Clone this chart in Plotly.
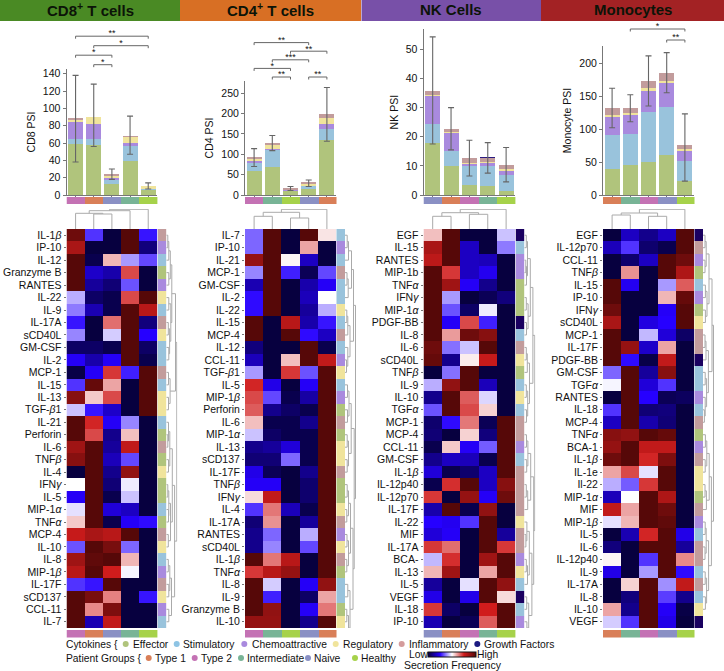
import plotly.graph_objects as go

W, H = 724, 671
FONT = "Liberation Sans"

# ---------------- data ----------------
STACKS = ["Effector", "Stimulatory", "Chemoattractive", "Regulatory", "Inflammatory", "Growth Factors"]
STACK_COLORS = ["#b0c47c", "#99c3dc", "#a98ade", "#f0e49c", "#c29c9c", "#2a1a80"]
CAT_INDEX = {"E": 0, "S": 1, "C": 2, "R": 3, "I": 4, "G": 5}
GROUP_COLORS = {"Type 1": "#d97f58", "Type 2": "#c472b4", "Intermediate": "#78b496", "Naive": "#8a90c4", "Healthy": "#a6d24a"}

cd8_groups = ["Type 2", "Type 1", "Naive", "Intermediate", "Healthy"]
cd4_groups = ["Type 2", "Intermediate", "Healthy", "Naive", "Type 1"]
nk_groups = ["Naive", "Type 1", "Type 2", "Intermediate", "Healthy"]
mono_groups = ["Type 1", "Intermediate", "Type 2", "Naive", "Healthy"]

cd8_stack = [[59, 58, 13, 39, 6], [5.5, 7, 4, 18, 1.5], [20, 17, 3, 3, 0], [2.5, 8, 3, 7, 3], [1, 0, 0.5, 1, 0], [0, 0, 0, 0, 0]]
cd4_stack = [[58, 70, 11, 14, 136], [20, 41, 1, 10, 25], [5, 2, 0.5, 0.5, 13], [6, 11, 2, 4, 16], [2, 3, 0.5, 1, 10], [0, 0, 0, 0, 0]]
nk_stack = [[18, 10, 3.3, 3, 1.3], [6.5, 5, 6.5, 7, 5.5], [9.5, 6.3, 1, 1.2, 1.5], [0.5, 0.5, 0.3, 0.3, 0.5], [1.3, 1, 1.6, 1.2, 1.5], [0, 0, 0, 0.2, 0]]
mono_stack = [[39, 45, 50, 61, 22], [52, 48, 76, 72, 29], [28, 29, 31, 38, 17], [3, 2, 5, 2, 2], [10, 8, 11, 12, 6], [0, 0, 0, 0, 0]]

cd8_err = [(38, 138), (56, 128), (18, 30), (47, 91), (7, 14)]
cd4_err = [(70, 114), (109, 146), (11, 21), (21, 37), (132, 264)]
nk_err = [(17.5, 54.3), (15.5, 30), (6.5, 18.8), (7.5, 18), (4.5, 16.3)]
mono_err = [(102, 162), (111, 152), (135, 211), (155, 216), (21, 123)]

# significance brackets: (from column, to column, level, stars)
cd8_sig = [(1, 2, 0, "*"), (0, 2, 1, "*"), (1, 4, 2, "*"), (0, 4, 3, "**")]
cd4_sig = [(1, 2, 0, "**"), (3, 4, 0, "**"), (0, 2, 1, "*"), (1, 3, 2, "***"), (2, 4, 3, "**"), (0, 3, 4, "**")]
nk_sig = []
mono_sig = [(3, 4, 0, "**"), (1, 4, 1, "*")]

b = "<i>β</i>"
a = "<i>α</i>"
g = "<i>γ</i>"

cd8_rows = [f"IL-1{b}", "IP-10", "IL-12", "Granzyme B", "RANTES", "IL-22", "IL-9", "IL-17A", "sCD40L", "GM-CSF", "IL-2", "MCP-1", "IL-15", "IL-13", f"TGF-{b}1", "IL-21", "Perforin", "IL-6", f"TNF{b}", "IL-4", f"IFN{g}", "IL-5", f"MIP-1{a}", f"TNF{a}", "MCP-4", "IL-10", "IL-8", f"MIP-1{b}", "IL-17F", "sCD137", "CCL-11", "IL-7"]
cd4_rows = ["IL-7", "IP-10", "IL-21", "MCP-1", "GM-CSF", "IL-2", "IL-22", "IL-15", "MCP-4", "IL-12", "CCL-11", f"TGF-{b}1", "IL-5", f"MIP-1{b}", "Perforin", "IL-6", f"MIP-1{a}", "IL-13", "sCD137", "IL-17F", f"TNF{b}", f"IFN{g}", "IL-4", "IL-17A", "RANTES", "sCD40L", f"IL-1{b}", f"TNF{a}", "IL-8", "IL-9", "Granzyme B", "IL-10"]
nk_rows = ["EGF", "IL-15", "RANTES", "MIP-1b", f"TNF{a}", f"IFN{g}", f"MIP-1{a}", "PDGF-BB", "IL-8", "IL-6", "sCD40L", f"TNF{b}", "IL-9", "IL-10", f"TGF{a}", "MCP-1", "MCP-4", "CCL-11", "GM-CSF", f"IL-1{b}", "IL-12p40", "IL-12p70", "IL-17F", "IL-22", "MIF", "IL-17A", "BCA-", "IL-13", "IL-5", "VEGF", "IL-18", "IP-10"]
mono_rows = ["EGF", "IL-12p70", "CCL-11", f"TNF{b}", "IL-15", "IP-10", f"IFN{g}", "sCD40L", "MCP-1", "IL-17F", "PDGF-BB", "GM-CSF", f"TGF{a}", "RANTES", "IL-18", "MCP-4", f"TNF{a}", "BCA-1", f"IL-1{b}", "IL-1e", "Il-22", f"MIP-1{a}", "MIF", f"MIP-1{b}", "IL-5", "IL-6", "IL-12p40", "IL-9", "IL-17A", "IL-8", "IL-10", "VEGF"]

cd8_cat = list("ICSECRSIRSSISRRSEIEREESEIRSCIRCS")
cd4_cat = list("SCSISSRSISCRSCEIERRIEERICRIESSER")
nk_cat = list("GSCCEEEGSIRESRSIICSIIIIRIICRSGSC")
mono_cat = list("GICESCERIIGSSCSIECIRREICSIISISRG")

cd8_z = [
 [.95,.30,0,1,.27],[.83,0,0,1,.08],[1,.02,.58,.40,.32],[1,.18,.14,.70,0],[1,.12,.07,.33,0],
 [.42,.05,.02,.70,1],[.37,.15,.02,1,.80],[.27,0,.66,1,.08],[.38,0,.45,1,.25],[.05,.05,.02,1,.05],
 [.24,.14,.24,1,.02],[.01,.24,.72,.28,1],[.30,.97,.60,0,1],[.90,.56,.70,0,1],[.44,.27,.18,0,1],
 [1,.74,.24,.38,0],[1,.70,.10,.57,0],[.85,1,.12,.78,0],[.90,1,.16,.32,0],[0,1,.10,.88,0],
 [.50,1,.07,.48,0],[.24,1,.02,.44,0],[.47,1,.20,.17,0],[.56,1,.02,.24,.26],[.77,.83,.80,1,0],
 [.33,1,.93,.35,0],[.85,.98,1,.58,0],[.80,1,.75,.49,0],[.30,.27,1,0,0],[1,.93,.64,0,.27],
 [1,.63,.92,0,0],[1,.15,.78,0,0]]
cd4_z = [
 [.35,1,0,1,.53],[.35,1,0,.60,0],[.87,1,.51,.17,0],[.38,1,.28,.03,.32],[.15,1,0,.14,.24],
 [.26,1,0,.16,.50],[.26,1,0,.12,.42],[1,0,.80,.14,.27],[1,0,1,.26,.17],[.08,0,0,1,.02],
 [.16,0,.57,1,.78],[.40,0,.72,.33,1],[.74,.22,0,.24,1],[.70,.32,.02,.13,1],[.68,.10,.05,.02,1],
 [.57,.02,.02,.10,1],[.44,.05,.02,.02,1],[.10,.12,.20,.02,1],[.07,.07,.35,.02,1],[.22,.03,0,.10,1],
 [.24,.24,0,.06,1],[.54,.78,0,.06,1],[.30,.65,.16,.02,1],[.07,.62,0,.12,1],[.10,.35,0,.42,1],
 [.10,.38,0,.32,1],[1,.65,.80,0,1],[.72,.80,.87,0,1],[1,.45,0,.24,.88],[1,.28,0,.05,.60],
 [1,.88,0,.24,.65],[.87,.87,0,.10,1]]
nk_z = [
 [.57,1,0,0,.44],[.83,1,.17,0,.37],[.79,1,.17,.16,0],[1,.72,.17,.23,0],[1,.85,.24,.10,0],
 [1,.40,0,.03,.08],[1,.33,.05,.48,0],[1,.24,.70,.28,0],[1,.61,.95,.90,0],[.95,.36,.44,1,0],
 [.97,.10,.52,.77,0],[0,.36,1,0,0],[.42,.88,1,.16,0],[.10,1,.68,.46,0],[.33,1,.70,.55,0],
 [.06,.26,.65,.03,1],[.07,0,.55,.08,1],[.02,.56,.24,.34,1],[.10,.17,.16,.02,1],[.20,.02,.06,.17,1],
 [.02,.73,1,.17,.90],[.72,0,.87,.24,.95],[.14,1,.02,.88,0],[.25,.23,.30,1,0],[.20,.24,0,1,.12],
 [.72,.66,0,1,.72],[.43,.73,0,.85,1],[.58,.85,0,.60,1],[.12,0,.47,1,.88],[.22,0,.22,1,.54],
 [.72,.05,0,.75,1],[.15,0,.03,.68,1]]
mono_z = [
 [0,.17,.10,.17,1],[.16,.30,.06,.02,1],[0,.06,.17,1,.95],[0,.62,0,1,.82],[1,.23,0,.40,.68],
 [1,0,0,.58,.97],[.95,0,0,.24,1],[.83,0,.21,.25,1],[1,0,.43,.20,.05],[1,.87,.18,.60,0],
 [1,.26,.01,.78,0],[.35,1,.12,.90,0],[.49,1,.20,.30,0],[0,1,.25,.03,.04],[.30,1,.07,.08,0],
 [.17,1,.14,.07,0],[.90,.88,1,.97,0],[.87,1,.78,.78,0],[.95,1,.74,.92,0],[.60,.70,.47,1,0],
 [.42,.34,.72,1,0],[.16,.50,1,.82,0],[.78,.60,1,.95,0],[.47,.58,1,.98,0],[0,.15,.74,1,.22],
 [.08,0,1,1,.12],[.51,0,.30,1,.63],[.22,0,.40,1,.26],[0,.55,1,.39,.78],[0,.08,1,.31,.10],
 [.60,.10,1,.24,.01],[.45,.30,1,.22,0]]

# dendrograms as (height, left, right); 0 is a leaf
cd8_coltree = (19.7, (18.3, (15.7, 0, (15, 0, 0)), 0), 0)
cd4_coltree = (19.7, (16.7, (12.7, 0, 0), (11, 0, 0)), 0)
nk_coltree = (19.7, (16.3, (12.7, 0, 0), (14.7, 0, 0)), 0)
mono_coltree = (19.7, (16, (14, 0, 0), (12.7, 0, 0)), 0)

cd8_rowtree = (10.5,
    (9.2, (5.5, (4, (2.5, (1.5, 0, 0), 0), (2.5, 0, 0)), (4.5, (2.5, 0, 0), (3.3, (2, 0, 0), (2.5, 0, 0)))), (3.8, (2.2, 0, 0), (2.2, 0, 0))),
    (8.3, (6, (3.5, (2.2, 0, (1.5, 0, 0)), (2.2, 0, 0)), (4.2, (2.5, (1.5, 0, 0), (2.2, 0, 0)), (2, 0, 0))),
          (5.2, (3.5, (2, 0, 0), (2.5, 0, 0)), (2.5, 0, 0))))
cd4_rowtree = (10.5,
    (8.5, (6.5, (3.5, (2.2, 0, 0), 0), (3.2, (2, 0, 0), 0)), 
          (5, (2.8, (1.8, 0, 0), 0), (2.8, 0, (1.5, 0, 0)))),
    (9.2, (6.2, (4, (2.5, 0, 0), (2.5, 0, 0)), (3.5, (2.2, 0, 0), (2.2, 0, 0))),
          (8, (5.5, (3.5, (2.2, 0, 0), (1.8, 0, 0)), (3.5, (2, 0, 0), (1.8, 0, 0))), (5, (2.8, 0, 0), (3.5, (1.8, 0, 0), (2, 0, 0))))))
nk_rowtree = (10.5,
    (8.6, (6, (3.2, (2, 0, 0), (2.2, (1.5, 0, 0), 0)), (3.8, (2, 0, 0), (2.2, 0, 0))),
          (5.2, (3, (2, 0, 0), 0), (3.4, (2, 0, 0), (2.2, 0, 0)))),
    (9.4, (6.4, (3.6, (2.2, 0, 0), (2.4, 0, 0)), (3.4, (2, 0, 0), 0)),
          (7.6, (5, (2.6, 0, (1.6, 0, 0)), (3.2, (2, 0, 0), 0)), (4.4, (2.4, 0, 0), (2.6, 0, 0)))))
mono_rowtree = (10.5,
    (9, (6, (3.2, (2, 0, 0), (2, 0, 0)), (4, (2.4, 0, 0), (2.4, 0, 0))),
        (5.4, (3, (2, 0, 0), 0), (3.6, (2.2, 0, 0), (2.2, 0, (1.4, 0, 0))))),
    (8.4, (6.2, (3.8, (2.4, 0, 0), (2.2, 0, 0)), (3.4, (2, 0, 0), 0)),
          (5.6, (3.2, (2.2, 0, 0), (2, 0, 0)), (3.6, (2.2, 0, 0), (2.4, 0, 0)))))

PANELS = [
    dict(title="CD8<sup>+</sup> T cells", ylabel="CD8 PSI", x0=66.5, x1=157.3, groups=cd8_groups, stack=cd8_stack, err=cd8_err,
         sig=cd8_sig, rows=cd8_rows, cat=cd8_cat, z=cd8_z, coltree=cd8_coltree, rowtree=cd8_rowtree,
         ytop=69, ymax=145.4, ticks=[0, 20, 40, 60, 80, 100, 120, 140], sig_base=64.7, sig_step=9.5),
    dict(title="CD4<sup>+</sup> T cells", ylabel="CD4 PSI", x0=245, x1=336, groups=cd4_groups, stack=cd4_stack, err=cd4_err,
         sig=cd4_sig, rows=cd4_rows, cat=cd4_cat, z=cd4_z, coltree=cd4_coltree, rowtree=cd4_rowtree,
         ytop=81, ymax=280, ticks=[0, 50, 100, 150, 200, 250], sig_base=77, sig_step=8.6),
    dict(title="NK Cells", ylabel="NK PSI", x0=423.5, x1=515.3, groups=nk_groups, stack=nk_stack, err=nk_err,
         sig=nk_sig, rows=nk_rows, cat=nk_cat, z=nk_z, coltree=nk_coltree, rowtree=nk_rowtree,
         ytop=29.3, ymax=56.9, ticks=[0, 10, 20, 30, 40, 50], sig_base=30, sig_step=9),
    dict(title="Monocytes", ylabel="Monocyte PSI", x0=603, x1=694, groups=mono_groups, stack=mono_stack, err=mono_err,
         sig=mono_sig, rows=mono_rows, cat=mono_cat, z=mono_z, coltree=mono_coltree, rowtree=mono_rowtree,
         ytop=46, ymax=226, ticks=[0, 50, 100, 150, 200], sig_base=40, sig_step=11),
]

HEADERS = [(0, 180, "#4a8a24"), (180, 361, "#d86f24"), (361.5, 541, "#7850a8"), (541, 724, "#a32224")]

COLORSCALE = [[0, "#07003f"], [0.25, "#2600ff"], [0.5, "#ffffff"], [0.75, "#d01c1c"], [1, "#560808"]]

LEGEND_ROW1 = [("Effector", 133, 125.7, "#b0c47c"), ("Stimulatory", 183.3, 176.7, "#8ec4e4"), ("Chemoattractive", 251.7, 244.3, "#a98ade"),
               ("Regulatory", 343.3, 335.7, "#f0e49c"), ("Inflammatory", 409.3, 401.7, "#d49c9c"), ("Growth Factors", 484.3, 477.3, "#1c1a80")]
LEGEND_ROW2 = [("Type 1", 155, 148.7, "#d97f58"), ("Type 2", 201, 194.7, "#c472b4"), ("Intermediate", 246.7, 241, "#78b496"),
               ("Naive", 314.3, 308, "#8a90c4"), ("Healthy", 360.7, 355, "#a6d24a")]

# ---------------- helpers ----------------
fig = go.Figure()
layout = {}
counter = [0]


def px_x(p):
    return p / W


def px_y(p):
    return 1 - p / H


def new_axes(x0, x1, y0, y1, xopts, yopts):
    """Create a pair of axes covering a pixel box (y0 top, y1 bottom)."""
    counter[0] += 1
    n = counter[0]
    sx = "" if n == 1 else str(n)
    base = dict(showgrid=False, zeroline=False, showline=False, showticklabels=False, ticks="")
    layout[f"xaxis{sx}"] = {**base, "domain": [px_x(x0), px_x(x1)], "anchor": f"y{sx}", **xopts}
    layout[f"yaxis{sx}"] = {**base, "domain": [px_y(y1), px_y(y0)], "anchor": f"x{sx}", **yopts}
    return f"x{sx}", f"y{sx}"


def tree_segments(node, start, vertical_leaves):
    """Return (position, height, segments, leaves) for a nested merge tree."""
    if node == 0:
        return float(start), 0.0, [], 1
    h, left, right = node
    lp, lh, ls, ln = tree_segments(left, start, vertical_leaves)
    rp, rh, rs, rn = tree_segments(right, start + ln, vertical_leaves)
    return (lp + rp) / 2, h, ls + rs + [((lp, lh), (lp, h), (rp, h), (rp, rh))], ln + rn


def add_tree(tree, xa, ya, horizontal):
    _, _, segs, _ = tree_segments(tree, 0, horizontal)
    xs, ys = [], []
    for seg in segs:
        for pos, h in seg:
            if horizontal:
                xs.append(h); ys.append(pos)
            else:
                xs.append(pos); ys.append(h)
        xs.append(None); ys.append(None)
    fig.add_trace(go.Scatter(x=xs, y=ys, xaxis=xa, yaxis=ya, mode="lines", hoverinfo="skip",
                             line=dict(color="#aaaaaa", width=1), showlegend=False))


def strip_scale(colors):
    n = len(colors)
    out = []
    for i, c in enumerate(colors):
        out += [[i / n, c], [(i + 1) / n, c]]
    return out


HEAT_TOP, HEAT_BOT = 229, 628
BAR_BOT = 195

for p in PANELS:
    x0, x1 = p["x0"], p["x1"]
    ncol = 5
    nrow = len(p["rows"])

    # bars
    xa, ya = new_axes(x0, x1, p["ytop"], BAR_BOT,
                      dict(range=[-0.5, 4.5], showline=True, linecolor="#777777", linewidth=1, ticks="outside",
                           ticklen=2, tickcolor="#777777", tickvals=list(range(ncol))),
                      dict(range=[0, p["ymax"]], showline=True, linecolor="#777777", linewidth=1, ticks="outside",
                           ticklen=3, tickcolor="#777777", tickvals=p["ticks"], showticklabels=True,
                           tickfont=dict(size=10.5, color="#111111", family=FONT),
                           title=dict(text=p["ylabel"], font=dict(size=10.5, color="#111111", family=FONT), standoff=5)))
    cols = list(range(ncol))
    for values, name, color in zip(p["stack"], STACKS, STACK_COLORS):
        fig.add_trace(go.Bar(x=cols, y=values, xaxis=xa, yaxis=ya, name=name, width=0.82, marker=dict(color=color, line=dict(width=0)),
                             showlegend=False))
    totals = [sum(v[i] for v in p["stack"]) for i in cols]
    fig.add_trace(go.Scatter(x=cols, y=totals, xaxis=xa, yaxis=ya, mode="markers", marker=dict(size=0.1, color="rgba(0,0,0,0)"),
                             error_y=dict(type="data", symmetric=False, array=[e[1] - t for e, t in zip(p["err"], totals)],
                                          arrayminus=[t - e[0] for e, t in zip(p["err"], totals)], color="#666666", thickness=1.1, width=3),
                             showlegend=False))

    # group strip under the bars and under the heatmap
    grp_z = [list(range(ncol))]
    grp_cols = [GROUP_COLORS[g_] for g_ in p["groups"]]
    for top, bot in ((197, 204), (630, 637.5)):
        xs, ys = new_axes(x0, x1 + 0.5, top, bot, dict(range=[-0.5, 4.5]), dict(range=[-0.5, 0.5]))
        fig.add_trace(go.Heatmap(z=grp_z, xaxis=xs, yaxis=ys, colorscale=strip_scale(grp_cols), zmin=-0.5, zmax=4.5,
                                 showscale=False, hoverinfo="skip"))

    # heatmap
    xh, yh = new_axes(x0, x1, HEAT_TOP, HEAT_BOT, dict(range=[-0.5, 4.5]),
                      dict(range=[nrow - 0.5, -0.5], tickvals=list(range(nrow)), ticktext=p["rows"], showticklabels=True,
                           ticks="outside", ticklen=2, tickcolor="#777777",
                           tickfont=dict(size=10.5, color="#111111", family=FONT)))
    fig.add_trace(go.Heatmap(z=p["z"], xaxis=xh, yaxis=yh, coloraxis="coloraxis", hoverinfo="skip"))

    # cytokine category strip
    xc, yc = new_axes(x1 + 0.3, x1 + 9, HEAT_TOP, HEAT_BOT, dict(range=[-0.5, 0.5]), dict(range=[nrow - 0.5, -0.5]))
    fig.add_trace(go.Heatmap(z=[[CAT_INDEX[c]] for c in p["cat"]], xaxis=xc, yaxis=yc, colorscale=strip_scale(STACK_COLORS[:5] + ["#1a0060"]),
                             zmin=-0.5, zmax=5.5, showscale=False, hoverinfo="skip"))

    # dendrograms
    xd, yd = new_axes(x0, x1, 209, HEAT_TOP, dict(range=[-0.5, 4.5]), dict(range=[0, 20]))
    add_tree(p["coltree"], xd, yd, False)
    xr, yr = new_axes(x1 + 9, x1 + 20, HEAT_TOP, HEAT_BOT, dict(range=[0, 11]), dict(range=[nrow - 0.5, -0.5]))
    add_tree(p["rowtree"], xr, yr, True)

    # significance brackets
    if p["sig"]:
        top_px = p["sig_base"] - p["sig_step"] * (max(s[2] for s in p["sig"]) + 1)
        bot_px = p["sig_base"] + 3
        n_levels = (bot_px - top_px) / p["sig_step"]
        xb, yb = new_axes(x0, x1, top_px, bot_px, dict(range=[-0.5, 4.5]),
                          dict(range=[-3 / p["sig_step"], n_levels - 3 / p["sig_step"]]))
        drop = 2.5 / p["sig_step"]
        bx, by, tx, ty, tt = [], [], [], [], []
        for c0, c1, lev, stars in p["sig"]:
            bx += [c0, c0, c1, c1, None]
            by += [lev - drop, lev, lev, lev - drop, None]
            tx.append((c0 + c1) / 2)
            ty.append(lev + 0.22)
            tt.append(stars)
        fig.add_trace(go.Scatter(x=bx, y=by, xaxis=xb, yaxis=yb, mode="lines", line=dict(color="#666666", width=1),
                                 hoverinfo="skip", showlegend=False))
        fig.add_trace(go.Scatter(x=tx, y=ty, xaxis=xb, yaxis=yb, mode="text", text=tt, textposition="middle center",
                                 textfont=dict(size=9, color="#111111", family=FONT), hoverinfo="skip", showlegend=False))

shapes = []
annotations = []


def text_at(x, y, s, size=10.3, **kw):
    annotations.append(dict(x=px_x(x), y=px_y(y), xref="paper", yref="paper", text=s, showarrow=False, xanchor=kw.pop("xanchor", "left"),
                            yanchor="middle", borderpad=0, borderwidth=0,
                            font=dict(size=size, color=kw.pop("color", "#111111"), family=FONT), **kw))


for (l, r, color), p in zip(HEADERS, PANELS):
    shapes.append(dict(type="rect", xref="paper", yref="paper", x0=px_x(l), x1=px_x(r), y0=px_y(21), y1=px_y(0), fillcolor=color, line_width=0, layer="below"))
    text_at((l + r) / 2, 9.5, f"<b>{p['title']}</b>", size=15, xanchor="center", color="#0c1408")

text_at(66, 644, "Cytokines {")
text_at(66, 658, "Patient Groups {")
for row_y, items in ((644, LEGEND_ROW1), (658, LEGEND_ROW2)):
    for label, tx, cx, color in items:
        text_at(tx, row_y, label)
        shapes.append(dict(type="circle", xref="paper", yref="paper", x0=px_x(cx - 3), x1=px_x(cx + 3), y0=px_y(row_y + 3), y1=px_y(row_y - 3), fillcolor=color, line_width=0))
text_at(408.7, 654.5, "Low")
text_at(477, 654.5, "High")
text_at(404, 665, "Secretion Frequency", size=10.5)

layout.update(
    width=W, height=H, margin=dict(l=0, r=0, t=0, b=0, autoexpand=False), autosize=False, showlegend=False,
    plot_bgcolor="white", paper_bgcolor="white", barmode="stack", font=dict(family=FONT),
    shapes=shapes, annotations=annotations, hovermode=False,
    coloraxis=dict(colorscale=COLORSCALE, cmin=0, cmax=1,
                   colorbar=dict(orientation="h", lenmode="pixels", len=48, thicknessmode="pixels", thickness=5,
                                 x=px_x(428), xanchor="left", y=px_y(654.8), yanchor="middle", xpad=0, ypad=0,
                                 showticklabels=False, ticks="", outlinecolor="#111111", outlinewidth=1)),
)
fig.update_layout(**layout)
fig.write_html("out.html", config={"displayModeBar": False},
               post_script="document.documentElement.style.overflow='hidden';document.body.style.margin='0';document.body.style.padding='0';")
